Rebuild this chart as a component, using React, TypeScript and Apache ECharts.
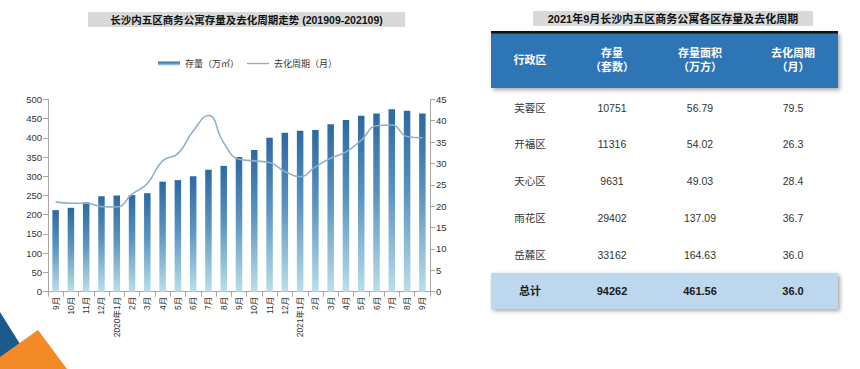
import React, { useEffect, useRef } from "react";
import * as echarts from "echarts";

const months = [
  "9月", "10月", "11月", "12月", "2020年1月", "2月", "3月", "4月", "5月", "6月", "7月", "8月",
  "9月", "10月", "11月", "12月", "2021年1月", "2月", "3月", "4月", "5月", "6月", "7月", "8月", "9月",
];
const stock = [212, 218, 232, 248, 250, 251, 256, 286, 290, 300, 317, 327, 350, 368, 400, 413, 418, 420, 435, 446, 457, 463, 474, 470, 463];
const cycle = [21.0, 20.7, 20.7, 19.9, 19.8, 22.8, 25.3, 30.6, 32.3, 37.6, 41.2, 34.8, 31.0, 30.6, 30.2, 28.1, 26.9, 29.2, 31.2, 32.7, 35.4, 38.8, 39.0, 36.3, 36.0];
const leftTicks = { min: 0, max: 500, interval: 50 };
const rightTicks = { min: 0, max: 45, interval: 5 };

const districts = ["芙蓉区", "开福区", "天心区", "雨花区", "岳麓区"];
const counts = ["10751", "11316", "9631", "29402", "33162"];
const areas = ["56.79", "54.02", "49.03", "137.09", "164.63"];
const cycles = ["79.5", "26.3", "28.4", "36.7", "36.0"];
const totalRow = ["总计", "94262", "461.56", "36.0"];
const headers = ["行政区", "存量\n（套数）", "存量面积\n（万方）", "去化周期\n（月）"];

const FONT = '"Liberation Sans", "Noto Sans CJK SC", sans-serif';

export default function App() {
  const ref = useRef<HTMLDivElement>(null);
  useEffect(() => {
    document.body.style.margin = "0";
    const chart = echarts.init(ref.current!, null, { renderer: "svg" });
    const colX = [530, 612, 700, 793];
    const rowY = [108, 144, 181, 218, 255];
    const tableTexts: any[] = [];
    districts.forEach((d, i) => {
      [d, counts[i], areas[i], cycles[i]].forEach((t, j) => {
        tableTexts.push({
          type: "text", x: colX[j], y: rowY[i],
          style: { text: t, fill: "#333", font: `10.5px ${FONT}`, align: "center", verticalAlign: "middle" },
        });
      });
    });
    totalRow.forEach((t, j) => {
      tableTexts.push({
        type: "text", x: colX[j], y: 291,
        style: { text: t, fill: "#1a1a1a", font: `bold 11px ${FONT}`, align: "center", verticalAlign: "middle" },
      });
    });
    headers.forEach((t, j) => {
      tableTexts.push({
        type: "text", x: colX[j], y: 60,
        style: { text: t, fill: "#fff", font: `bold 11px ${FONT}`, align: "center", verticalAlign: "middle", lineHeight: 14 },
      });
    });

    chart.setOption({
      animation: false,
      textStyle: { fontFamily: FONT },
      legend: {
        left: 153, top: 54, itemWidth: 22, itemHeight: 4, itemGap: 8,
        textStyle: { fontSize: 9, color: "#333" },
        data: [
          { name: "存量（万㎡）", icon: "rect" },
          { name: "去化周期（月）", icon: "path://M0,0L22,0L22,1.4L0,1.4Z", itemStyle: { color: "#8fb0cc" } },
        ],
      },
      grid: { left: 48, right: 430, top: 99.3, bottom: 77.3, containLabel: false },
      xAxis: {
        type: "category", data: months,
        axisLine: { lineStyle: { color: "#a6a6a6" } },
        axisTick: { show: true, interval: 0, alignWithLabel: false, lineStyle: { color: "#a6a6a6" } },
        axisLabel: { interval: 0, rotate: 90, fontSize: 8.5, color: "#333", margin: 5 },
      },
      yAxis: [
        {
          type: "value", ...leftTicks,
          axisLine: { show: true, lineStyle: { color: "#a6a6a6" } },
          axisTick: { show: true, lineStyle: { color: "#a6a6a6" } },
          axisLabel: { fontSize: 9.5, color: "#333", margin: 6 },
          splitLine: { show: false },
        },
        {
          type: "value", ...rightTicks,
          axisLine: { show: true, lineStyle: { color: "#a6a6a6" } },
          axisTick: { show: true, lineStyle: { color: "#a6a6a6" } },
          axisLabel: { fontSize: 9.5, color: "#333", margin: 6 },
          splitLine: { show: false },
        },
      ],
      series: [
        {
          name: "存量（万㎡）", type: "bar", data: stock, barWidth: 6.5, yAxisIndex: 0,
          itemStyle: {
            color: new echarts.graphic.LinearGradient(0, 0, 0, 1, [
              { offset: 0, color: "#2c69a2" },
              { offset: 0.45, color: "#5a93c0" },
              { offset: 1, color: "#b9dfe9" },
            ]),
          },
        },
        {
          name: "去化周期（月）", type: "line", data: cycle, yAxisIndex: 1, smooth: true,
          symbol: "none", showSymbol: false, lineStyle: { color: "#8fb0cc", width: 1.6 }, itemStyle: { color: "#8fb0cc" },
        },
      ],
      graphic: [
        { type: "polygon", shape: { points: [[0, 312], [20, 344], [0, 362]] }, style: { fill: "#1d5a8c" } },
        { type: "polygon", shape: { points: [[38, 330], [67, 369], [0, 369], [0, 357]] }, style: { fill: "#f28a25" } },
        { type: "rect", shape: { x: 88, y: 12, width: 317, height: 15 }, style: { fill: "#d9d9d9" } },
        {
          type: "text", x: 246.5, y: 19.5,
          style: { text: "长沙内五区商务公寓存量及去化周期走势 (201909-202109)", fill: "#111", font: `bold 10.5px ${FONT}`, align: "center", verticalAlign: "middle" },
        },
        { type: "rect", shape: { x: 533, y: 11, width: 280, height: 15 }, style: { fill: "#d9d9d9" } },
        {
          type: "text", x: 673, y: 18.5,
          style: { text: "2021年9月长沙内五区商务公寓各区存量及去化周期", fill: "#111", font: `bold 11px ${FONT}`, align: "center", verticalAlign: "middle" },
        },
        {
          type: "rect", shape: { x: 491, y: 32, width: 347, height: 56 },
          style: { fill: "#2e75b6", shadowBlur: 4, shadowOffsetX: 2, shadowOffsetY: 2, shadowColor: "rgba(0,0,0,0.35)" },
        },
        { type: "rect", shape: { x: 491, y: 31, width: 347, height: 2.5 }, style: { fill: "#111" } },
        {
          type: "rect", shape: { x: 491, y: 273, width: 347, height: 36 },
          style: { fill: "#bdd7ee", shadowBlur: 4, shadowOffsetX: 2, shadowOffsetY: 2, shadowColor: "rgba(0,0,0,0.35)" },
        },
        ...tableTexts,
      ],
    });
    return () => chart.dispose();
  }, []);
  return <div ref={ref} style={{ width: 860, height: 369 }} />;
}
